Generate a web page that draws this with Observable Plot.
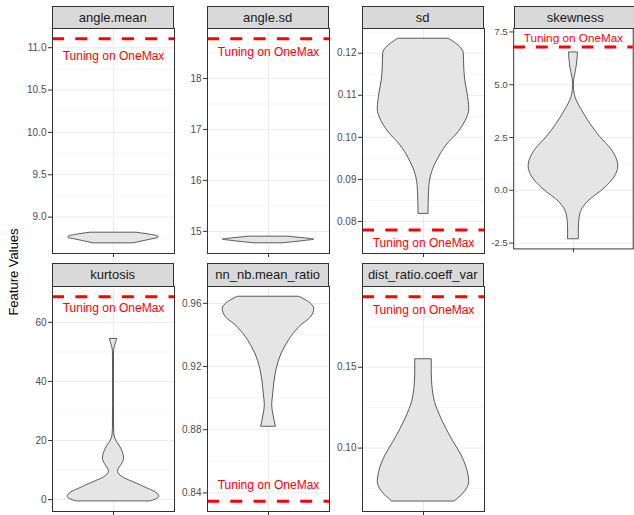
<!DOCTYPE html>
<html><head><meta charset="utf-8">
<script src="https://cdn.jsdelivr.net/npm/d3@7"></script>
<script src="https://cdn.jsdelivr.net/npm/@observablehq/plot@0.6"></script>
<style>
body{margin:0;background:#fff;font-family:"Liberation Sans",Arial,sans-serif;}
#chart{position:relative;width:634px;height:515px;overflow:hidden;background:#fff;}
.strip{position:absolute;box-sizing:border-box;background:#d9d9d9;border:1px solid #333;color:#1a1a1a;font-size:13px;display:flex;align-items:center;justify-content:center;white-space:nowrap;}
.panel{position:absolute;}
.ylab{position:absolute;white-space:nowrap;font-size:13px;color:#000;transform:translate(-50%,-50%) rotate(-90deg);}
</style></head><body><div id="chart"></div>
<script>
// ---- data ----
const features = ["angle.mean","angle.sd","sd","skewness","kurtosis","nn_nb.mean_ratio","dist_ratio.coeff_var"];
const hlineValues = [11.106, 18.78, 0.07795, 6.79, 68.66, 0.8347, 0.19362];
const labelValues = [10.906, 18.51, 0.0748, 7.19, 64.8, 0.8448, 0.18539];
const labelText = "Tuning on OneMax";

const ticksAngleMean = [9, 9.5, 10, 10.5, 11];
const labelsAngleMean = ["9.0","9.5","10.0","10.5","11.0"];
const ticksAngleSd = [15, 16, 17, 18];
const labelsAngleSd = ["15","16","17","18"];
const ticksSd = [0.08, 0.09, 0.10, 0.11, 0.12];
const labelsSd = ["0.08","0.09","0.10","0.11","0.12"];
const ticksSkew = [-2.5, 0, 2.5, 5, 7.5];
const labelsSkew = ["-2.5","0.0","2.5","5.0","7.5"];
const ticksKurt = [0, 20, 40, 60];
const labelsKurt = ["0","20","40","60"];
const ticksNn = [0.84, 0.88, 0.92, 0.96];
const labelsNn = ["0.84","0.88","0.92","0.96"];
const ticksDist = [0.10, 0.15];
const labelsDist = ["0.10","0.15"];

// violin outlines: [value, relative half-width]
const violinAngleMean = [[8.691,0.45],[8.715,0.65],[8.738,0.85],[8.754,0.98],[8.770,0.98],[8.785,0.88],[8.801,0.7],[8.816,0.5]];
const violinAngleSd = [[14.766,0.3],[14.792,0.6],[14.818,0.85],[14.838,1.0],[14.857,0.85],[14.877,0.62],[14.896,0.4]];
const violinSd = [[0.08188,0.11],[0.08549,0.115],[0.08863,0.13],[0.09176,0.19],[0.0949,0.32],[0.09804,0.5],[0.10118,0.76],[0.10431,0.94],[0.10667,1.0],[0.11059,0.96],[0.11373,0.91],[0.11686,0.89],[0.1200,0.88],[0.12157,0.79],[0.12345,0.55]];
const violinSkew = [[-2.3,0.12],[-1.806,0.12],[-1.188,0.145],[-0.571,0.31],[0.046,0.67],[0.664,0.93],[1.127,1.0],[1.898,0.86],[2.515,0.6],[3.133,0.38],[3.75,0.2],[4.21,0.08],[4.52,0.03],[4.98,0.008],[5.29,0.02],[5.6,0.05],[5.91,0.075],[6.53,0.10]];
const violinKurt = [[-0.56,0.82],[0.2,0.95],[0.9,1.0],[2.0,0.96],[2.9,0.87],[3.7,0.75],[4.8,0.6],[6.0,0.42],[6.8,0.3],[7.6,0.2],[8.5,0.13],[9.4,0.1],[10.5,0.12],[11.6,0.17],[12.7,0.21],[13.8,0.23],[14.9,0.225],[16.1,0.2],[17.2,0.17],[18.3,0.13],[19.4,0.08],[20.6,0.04],[22.0,0.02],[24,0.012],[32,0.01],[43,0.01],[49.8,0.012],[50.9,0.018],[52.1,0.035],[53.2,0.06],[54.36,0.08]];
const violinNn = [[0.8821,0.16],[0.8891,0.11],[0.8954,0.08],[0.9017,0.10],[0.9101,0.13],[0.9185,0.18],[0.9269,0.27],[0.9333,0.38],[0.9396,0.52],[0.9459,0.71],[0.9512,0.93],[0.9564,1.0],[0.9606,0.89],[0.9642,0.67]];
const violinDist = [[0.0671,0.69],[0.0728,0.9],[0.0790,1.0],[0.0872,0.95],[0.0955,0.83],[0.1037,0.66],[0.1119,0.5],[0.1202,0.36],[0.1284,0.25],[0.1366,0.2],[0.1469,0.18],[0.15494,0.18]];

const violins = [violinAngleMean, violinAngleSd, violinSd, violinSkew, violinKurt, violinNn, violinDist];
const tickSets = [ticksAngleMean, ticksAngleSd, ticksSd, ticksSkew, ticksKurt, ticksNn, ticksDist];
const tickLabelSets = [labelsAngleMean, labelsAngleSd, labelsSd, labelsSkew, labelsKurt, labelsNn, labelsDist];

// ---- layout ----
const chart = document.getElementById("chart");
const colLefts = [51.7, 206.7, 361.7, 514.3];
const stripTops = [6, 263.3];
const stripH = 22.3, panelH = 225, panelW = 122;
const mL = 40, mR = 1, mT = 1, mB = 6;
const font = "Liberation Sans, Arial, sans-serif";

features.forEach((name, i) => {
  const row = Math.floor(i / 4), col = i % 4;
  const left = colLefts[col], stripTop = stripTops[row], panelTop = stripTop + stripH;
  const prof = violins[i];
  const ticks = tickSets[i], tlabels = tickLabelSets[i];
  const vals = prof.map(d => d[0]).concat([hlineValues[i], labelValues[i]]);
  const [lo, hi] = d3.extent(vals);
  const pad = (hi - lo) * 0.05;
  const domain = [lo - pad, hi + pad];
  const step = ticks.length > 1 ? ticks[1] - ticks[0] : 1;
  const minor = [];
  for (let t = ticks[0] - step * 10 + step / 2; t < domain[1]; t += step) if (t > domain[0]) minor.push(t);
  const fmt = d => { const k = ticks.findIndex(t => Math.abs(t - d) < 1e-9); return k >= 0 ? tlabels[k] : ""; };

  const p = Plot.plot({
    width: panelW + mL + mR, height: panelH + mT + mB,
    marginLeft: mL, marginRight: mR, marginTop: mT, marginBottom: mB,
    style: {background: "transparent", overflow: "visible", fontFamily: font},
    x: {domain: [-1, 1], axis: null},
    y: {domain, axis: null},
    marks: [
      Plot.ruleY(minor, {stroke: "#f0f0f0", strokeWidth: 0.6}),
      Plot.ruleY(ticks, {stroke: "#ebebeb", strokeWidth: 1}),
      Plot.ruleX([0], {stroke: "#ebebeb", strokeWidth: 1}),
      Plot.areaX(prof, {y: d => d[0], x1: d => -0.75 * d[1], x2: d => 0.75 * d[1], fill: "#e5e5e5", stroke: "#333", strokeWidth: 0.8, curve: "monotone-y"}),
      Plot.ruleY([hlineValues[i]], {stroke: "#ff0000", strokeWidth: 3, strokeDasharray: "12,11.3"}),
      Plot.text([labelText], {x: 0, y: labelValues[i], text: d => d, fill: "#ff0000", fontSize: 12}),
      Plot.frame({stroke: "#333", strokeWidth: 1}),
      Plot.axisY({ticks, tickFormat: fmt, tickSize: 4, tickPadding: 2, stroke: "#333", fill: "#4d4d4d", fontSize: 10, label: null}),
      Plot.axisX({ticks: [0], tickFormat: () => "", tickSize: 4, stroke: "#333", label: null})
    ]
  });
  const wrap = document.createElement("div");
  wrap.className = "panel";
  wrap.style.left = (left - mL) + "px";
  wrap.style.top = (panelTop - mT) + "px";
  wrap.appendChild(p);
  chart.appendChild(wrap);

  const s = document.createElement("div");
  s.className = "strip";
  s.style.left = left + "px"; s.style.top = stripTop + "px";
  s.style.width = panelW + "px"; s.style.height = (stripH + 1) + "px";
  s.textContent = name;
  chart.appendChild(s);
});

const yl = document.createElement("div");
yl.className = "ylab";
yl.style.left = "13px"; yl.style.top = "272px";
yl.textContent = "Feature Values";
chart.appendChild(yl);
</script></body></html>
